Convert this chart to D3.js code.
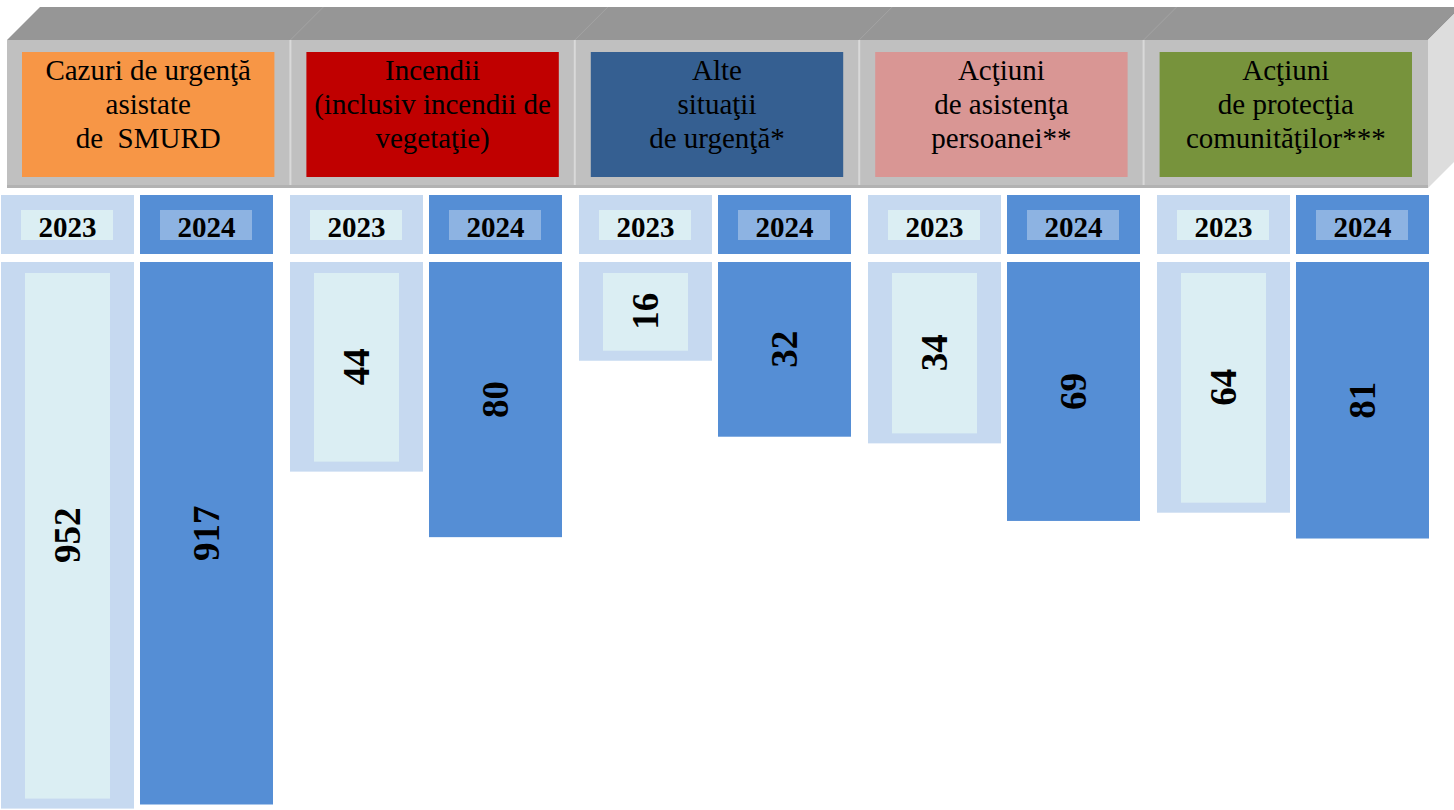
<!DOCTYPE html>
<html>
<head>
<meta charset="utf-8">
<script src="https://cdn.jsdelivr.net/npm/d3@7"></script>
<style>
  body { margin: 0; background: #fff; }
  text { font-family: "Liberation Serif", "Times New Roman", serif; }
</style>
</head>
<body>
<svg width="1454" height="810"></svg>
<script>
// categories (header text, one entry per line)
const categories = [
  ["Cazuri de urgenţă", "asistate", "de  SMURD"],
  ["Incendii", "(inclusiv incendii de", "vegetaţie)"],
  ["Alte", "situaţii", "de urgenţă*"],
  ["Acţiuni", "de asistenţa", "persoanei**"],
  ["Acţiuni", "de protecţia", "comunităţilor***"]
];
const years = ["2023", "2024"];
const values2023 = [952, 44, 16, 34, 64];
const values2024 = [917, 80, 32, 69, 81];

// styles
const headerColors = ["#F79646", "#C00000", "#355F91", "#D99694", "#77933C"];
const outerFill = { "2023": "#C6D9F0", "2024": "#558ED5" };
const innerFill = { "2023": "#DBEEF3", "2024": "#8DB3E2" };

const svg = d3.select("svg");

// ---- 3D header block
const frontX0 = 7, frontX1 = 1428, frontY0 = 40, frontY1 = 188, depth = 33;
svg.append("polygon")
  .attr("points", [[frontX0, frontY0], [frontX0 + depth, frontY0 - depth], [frontX1 + depth, frontY0 - depth], [frontX1, frontY0]].join(" "))
  .attr("fill", "#969696");
svg.append("polygon")
  .attr("points", [[frontX1, frontY0], [frontX1 + depth, frontY0 - depth], [frontX1 + depth, frontY1 - depth], [frontX1, frontY1]].join(" "))
  .attr("fill", "#DDDDDD");
svg.append("rect")
  .attr("x", frontX0).attr("y", frontY0)
  .attr("width", frontX1 - frontX0).attr("height", frontY1 - frontY0)
  .attr("fill", "#C0C0C0");
svg.append("rect")
  .attr("x", frontX0).attr("y", frontY1 - 3)
  .attr("width", frontX1 - frontX0).attr("height", 3)
  .attr("fill", "#B2B2B2");

const hx = d3.scaleBand().domain(d3.range(categories.length)).range([6, frontX1]);

// panel dividers
const divs = d3.range(1, categories.length);
svg.selectAll("line.div").data(divs).enter().append("line")
  .attr("class", "div")
  .attr("x1", i => hx(i)).attr("x2", i => hx(i))
  .attr("y1", frontY0).attr("y2", frontY1 - 3)
  .attr("stroke", "#D9D9D9").attr("stroke-width", 2);
svg.selectAll("line.divtop").data(divs).enter().append("line")
  .attr("class", "divtop")
  .attr("x1", i => hx(i)).attr("x2", i => hx(i) + depth)
  .attr("y1", frontY0).attr("y2", frontY0 - depth)
  .attr("stroke", "#A4A4A4").attr("stroke-width", 1);

// coloured category boxes
const head = svg.selectAll("g.head").data(categories).enter().append("g")
  .attr("class", "head")
  .attr("transform", (d, i) => `translate(${hx(i) + 16},52)`);
head.append("rect")
  .attr("width", hx.step() - 32).attr("height", 125)
  .attr("fill", (d, i) => headerColors[i]);
head.selectAll("text").data(d => d).enter().append("text")
  .attr("x", (hx.step() - 32) / 2)
  .attr("y", (d, j) => 28 + j * 34)
  .attr("text-anchor", "middle")
  .attr("font-size", 29)
  .attr("fill", "#000")
  .style("white-space", "pre")
  .text(d => d);

// ---- year cells and bars
const gx = d3.scaleBand().domain(d3.range(categories.length)).range([1, 1429]).paddingInner(17 / 289);
const yx = d3.scaleBand().domain(years).range([0, gx.bandwidth()]).paddingInner(6 / 139);
const h = d3.scaleLog().domain([6.5, 1000]).range([262, 814]);

const rows = [];
categories.forEach((c, i) => {
  rows.push({ cat: i, year: "2023", value: values2023[i] });
  rows.push({ cat: i, year: "2024", value: values2024[i] });
});

const cell = svg.selectAll("g.cell").data(rows).enter().append("g")
  .attr("class", "cell")
  .attr("transform", d => `translate(${gx(d.cat) + yx(d.year)},0)`);

// year label cells
cell.append("rect")
  .attr("y", 195).attr("width", yx.bandwidth()).attr("height", 59)
  .attr("fill", d => outerFill[d.year]);
cell.append("rect")
  .attr("x", 20).attr("y", 210).attr("width", yx.bandwidth() - 41).attr("height", 30)
  .attr("fill", d => innerFill[d.year]);
cell.append("text")
  .attr("x", yx.bandwidth() / 2).attr("y", 237)
  .attr("text-anchor", "middle")
  .attr("font-size", 29).attr("font-weight", "bold")
  .text(d => d.year);

// bars
cell.append("rect")
  .attr("y", h.range()[0])
  .attr("width", yx.bandwidth())
  .attr("height", d => h(d.value) - h.range()[0])
  .attr("fill", d => outerFill[d.year]);
cell.filter(d => d.year === "2023").append("rect")
  .attr("x", 24).attr("y", h.range()[0] + 11)
  .attr("width", yx.bandwidth() - 48)
  .attr("height", d => h(d.value) - h.range()[0] - 21)
  .attr("fill", innerFill["2023"]);
cell.append("text")
  .attr("transform", d => `translate(${yx.bandwidth() / 2},${(h.range()[0] + h(d.value)) / 2}) rotate(-90)`)
  .attr("text-anchor", "middle")
  .attr("dy", "0.35em")
  .attr("font-size", 37).attr("font-weight", "bold")
  .text(d => d.value);
</script>
</body>
</html>
